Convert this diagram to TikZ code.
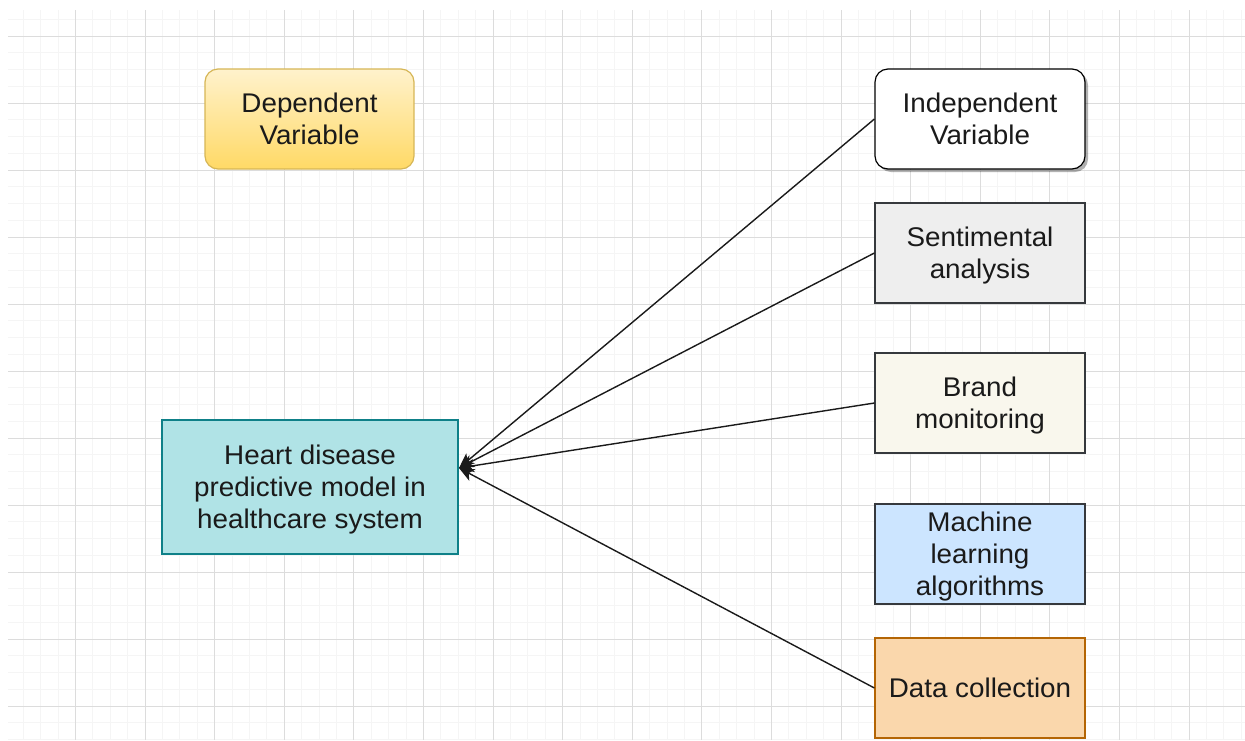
\documentclass[tikz,border=0pt]{standalone}
\usepackage{fontspec}
\setmainfont{Liberation Sans}[FakeStretch=1.03]
\usetikzlibrary{arrows.meta,shadows}

\definecolor{gridmajor}{HTML}{DCDCDC}
\definecolor{gridminor}{HTML}{F5F5F5}
\definecolor{txt}{HTML}{1A1A1A}
\definecolor{ylwtop}{HTML}{FFF2CC}
\definecolor{ylwbot}{HTML}{FFD966}
\definecolor{ylwline}{HTML}{D6B656}
\definecolor{greyfill}{HTML}{EEEEEE}
\definecolor{darkline}{HTML}{36393D}
\definecolor{creamfill}{HTML}{F9F7ED}
\definecolor{bluefill}{HTML}{CCE5FF}
\definecolor{orangefill}{HTML}{FAD7AC}
\definecolor{orangeline}{HTML}{B46504}
\definecolor{tealfill}{HTML}{B0E3E6}
\definecolor{tealline}{HTML}{0E8088}

\tikzset{
  minorgrid/.style={gridminor, line width=1pt},
  majorgrid/.style={gridmajor, line width=1.3pt},
  box/.style={rectangle, draw, line width=1.2pt, minimum width=210pt,
    minimum height=100pt, inner sep=2pt, align=center, text=txt,
    text depth=1pt, font=\fontsize{27}{32}\selectfont},
  conn/.style={draw=txt, line width=1.4pt,
    -{Stealth[length=15pt,width=13pt,inset=4pt]}}
}

\begin{document}
\begin{tikzpicture}[x=1pt,y=-1pt]
\useasboundingbox (0,0) rectangle (1245,740);
\fill[white] (0,0) rectangle (1245,740);

% background grid: 69.6 x 67 cells, four subdivisions each way,
% lines snapped to whole units so they stay crisp
\begin{scope}
  \clip (8,10) rectangle (1245,740);
  \foreach \i in {0,...,72}
    \draw[minorgrid] ({round(5.4+17.4*\i)+0.5},10) -- ({round(5.4+17.4*\i)+0.5},740);
  \foreach \i in {0,...,44}
    \draw[minorgrid] (8,{round(2.2+16.75*\i)+0.5}) -- (1245,{round(2.2+16.75*\i)+0.5});
  \foreach \i in {0,...,17}
    \draw[majorgrid] ({round(75+69.6*\i)+0.5},10) -- ({round(75+69.6*\i)+0.5},740);
  \foreach \i in {0,...,11}
    \draw[majorgrid] (8,{round(35.7+67*\i)+0.5}) -- (1245,{round(35.7+67*\i)+0.5});
\end{scope}

% boxes
\node[box, rounded corners=13pt, draw=ylwline, top color=ylwtop,
  bottom color=ylwbot, minimum width=209pt] (dep) at (309.5,119)
  {Dependent\\Variable};
\node[box, rounded corners=13pt, draw=black, fill=white,
  drop shadow={shadow xshift=3pt, shadow yshift=-3pt, fill=black, opacity=0.3}]
  (ind) at (980,119) {Independent\\Variable};
\node[box, draw=darkline, fill=greyfill] (sen) at (980,253)
  {Sentimental\\analysis};
\node[box, draw=darkline, fill=creamfill] (brand) at (980,403)
  {Brand\\monitoring};
\node[box, draw=darkline, fill=bluefill] (ml) at (980,554)
  {Machine\\learning\\algorithms};
\node[box, draw=orangeline, fill=orangefill] (data) at (980,688)
  {Data collection};
\node[box, draw=tealline, fill=tealfill, minimum width=296pt,
  minimum height=134pt] (heart) at (310,487)
  {Heart disease\\predictive model in\\healthcare system};

% connectors into the model box
\coordinate (tip) at (459,468);
\draw[conn] (ind.west) -- (tip);
\draw[conn] (sen.west) -- (tip);
\draw[conn] (brand.west) -- (tip);
\draw[conn] (data.west) -- (tip);
\end{tikzpicture}
\end{document}
